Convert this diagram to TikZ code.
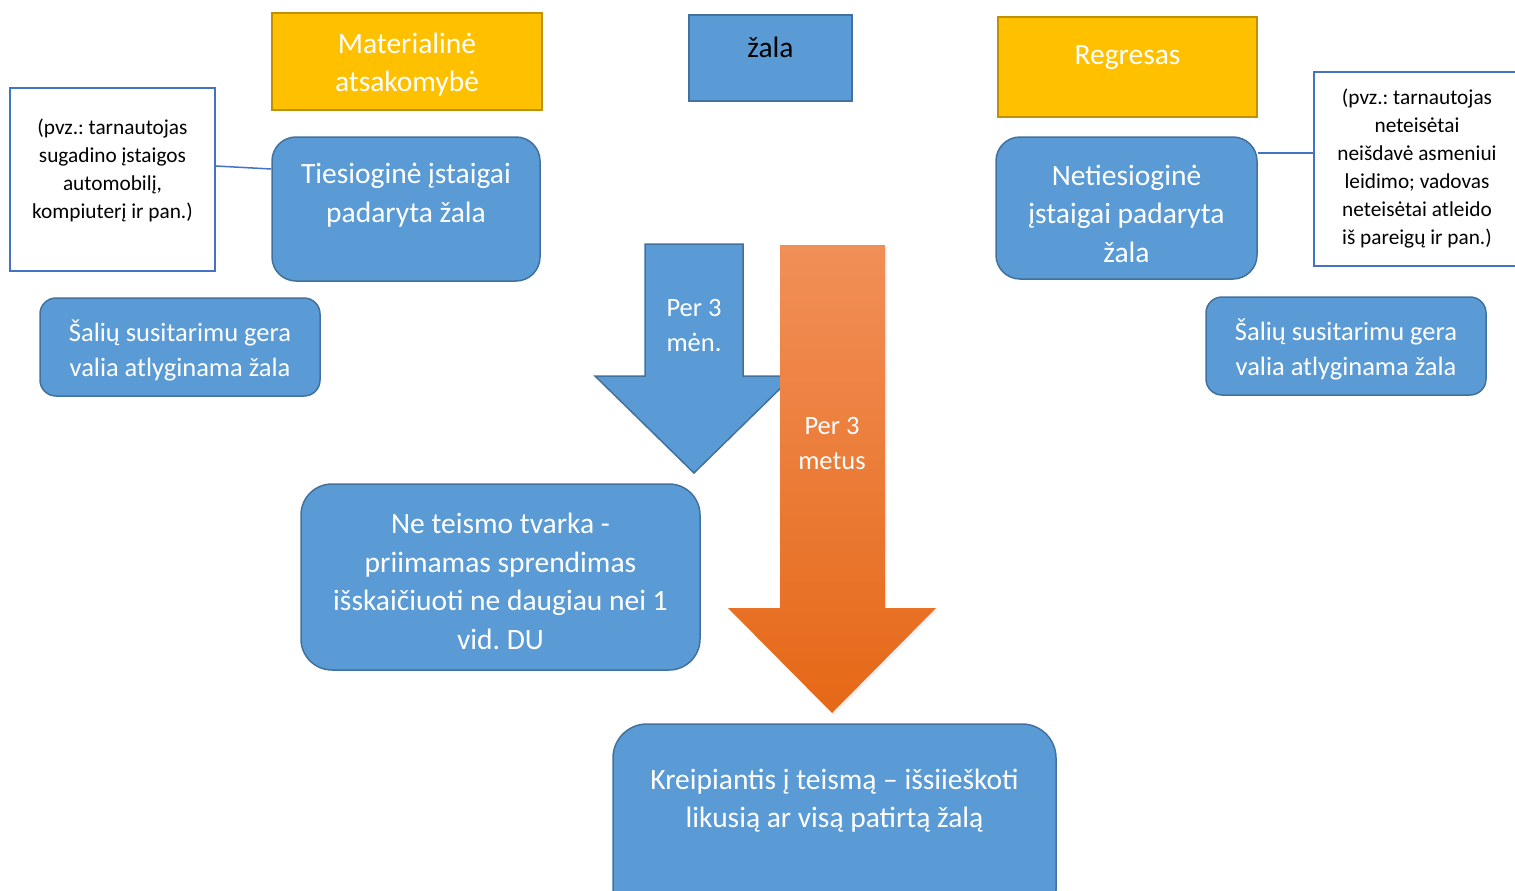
\documentclass[tikz,border=0pt]{standalone}
\usepackage{fontspec}
\setmainfont{Carlito}
\frenchspacing
\usepackage{xcolor}
\usepackage{tikz}
\usetikzlibrary{calc,shadows}
\definecolor{matyellow}{RGB}{255,192,0}
\definecolor{matborder}{RGB}{191,144,0}
\definecolor{boxblue}{RGB}{91,155,213}
\definecolor{boxborder}{RGB}{65,113,156}
\definecolor{noteblue}{RGB}{68,114,196}
\definecolor{orangetop}{RGB}{241,143,88}
\definecolor{orangebot}{RGB}{229,104,22}

\tikzset{
  yellowbox/.style={fill=matyellow, draw=matborder, line width=1.5pt},
  bluebox/.style={fill=boxblue, draw=boxborder, line width=1.5pt},
  roundbox/.style={bluebox, rounded corners=#1},
  notebox/.style={fill=white, draw=noteblue, line width=1.5pt},
  bigtxt/.style={text=white, align=center, font=\fontsize{29.5}{38.5}\selectfont},
  midtxt/.style={text=white, align=center, font=\fontsize{26.5}{35}\selectfont},
  notetxt/.style={text=black, align=center, font=\fontsize{21.3}{28}\selectfont},
  link/.style={draw=noteblue, line width=1.5pt}
}

\begin{document}
\begin{tikzpicture}[x=1pt, y=-1pt]
  \useasboundingbox (0,0) rectangle (1515,891);

  % top row
  \node[yellowbox, minimum width=270pt, minimum height=97pt] (mat) at (407,61.5) {};
  \node[bigtxt] (mat-txt) at (407,64.5) {Materialinė\\atsakomybė};
  \node[bluebox, minimum width=163pt, minimum height=86pt] (zala) at (770.5,58) {};
  \node[bigtxt, text=black] (zala-txt) at (770.5,47.5) {žala};
  \node[yellowbox, minimum width=259pt, minimum height=100pt] (regr) at (1127.5,67) {};
  \node[bigtxt] (regr-txt) at (1127.5,58) {Regresas};

  % left column
  \node[notebox, minimum width=205pt, minimum height=183pt] (noteL) at (112.5,179.5) {};
  \node[notetxt] (noteL-txt) at (112.5,170.5)
    {(pvz.: tarnautojas\\sugadino  įstaigos\\automobilį,\\kompiuterį ir pan.)};
  \node[roundbox=24pt, minimum width=268pt, minimum height=144pt] (ties) at (406,209) {};
  \node[bigtxt] (ties-txt) at (406,195) {Tiesioginė įstaigai\\padaryta žala};
  \node[roundbox=16pt, minimum width=280pt, minimum height=98pt] (salL) at (180,347) {};
  \node[midtxt] (salL-txt) at (180,350) {Šalių susitarimu gera\\valia atlyginama žala};
  \draw[link] ([yshift=13.5pt]noteL.east) -- ([yshift=40pt]ties.west);

  % right column
  \node[notebox, minimum width=206pt, minimum height=194pt] (noteR) at (1417,169) {};
  \node[notetxt] (noteR-txt) at (1417,168.5)
    {(pvz.: tarnautojas\\neteisėtai\\neišdavė asmeniui\\leidimo; vadovas\\neteisėtai atleido\\iš pareigų ir pan.)};
  \node[roundbox=24pt, minimum width=261pt, minimum height=142pt] (neties) at (1126.5,208) {};
  \node[bigtxt] (neties-txt) at (1126.5,213.5) {Netiesioginė\\įstaigai padaryta\\žala};
  \node[roundbox=16pt, minimum width=280pt, minimum height=98pt] (salR) at (1346,346) {};
  \node[midtxt] (salR-txt) at (1346,349) {Šalių susitarimu gera\\valia atlyginama žala};
  \draw[link] ([yshift=55pt]neties.east) -- ([yshift=16pt]noteR.west);

  % arrows
  \draw[bluebox] (645,244) -- (743,244) -- (743,376) -- (793,376) -- (694,473)
    -- (595,376) -- (645,376) -- cycle;
  \node[midtxt] (men) at (694,326) {Per 3\\mėn.};
  \shade[top color=orangetop, bottom color=orangebot,
    drop shadow={opacity=0.12, shadow xshift=2pt, shadow yshift=-2pt}]
    (780,245) -- (885,245) -- (885,608) -- (936,608) -- (832,713)
    -- (728,608) -- (780,608) -- cycle;
  \node[midtxt] (metus) at (832,443.5) {Per 3\\metus};

  % bottom boxes
  \node[roundbox=31pt, minimum width=399pt, minimum height=186pt] (neteis) at (500.5,577) {};
  \node[bigtxt] (neteis-txt) at (500.5,581.5)
    {Ne teismo tvarka -\\priimamas sprendimas\\išskaičiuoti ne daugiau nei 1\\vid. DU};
  \node[roundbox=34pt, minimum width=443pt, minimum height=200pt] (kreip) at (834.5,824) {};
  \node[bigtxt] (kreip-txt) at (834.5,800.5)
    {Kreipiantis į teismą – išsiieškoti\\likusią ar visą patirtą žalą};
\end{tikzpicture}
\end{document}
